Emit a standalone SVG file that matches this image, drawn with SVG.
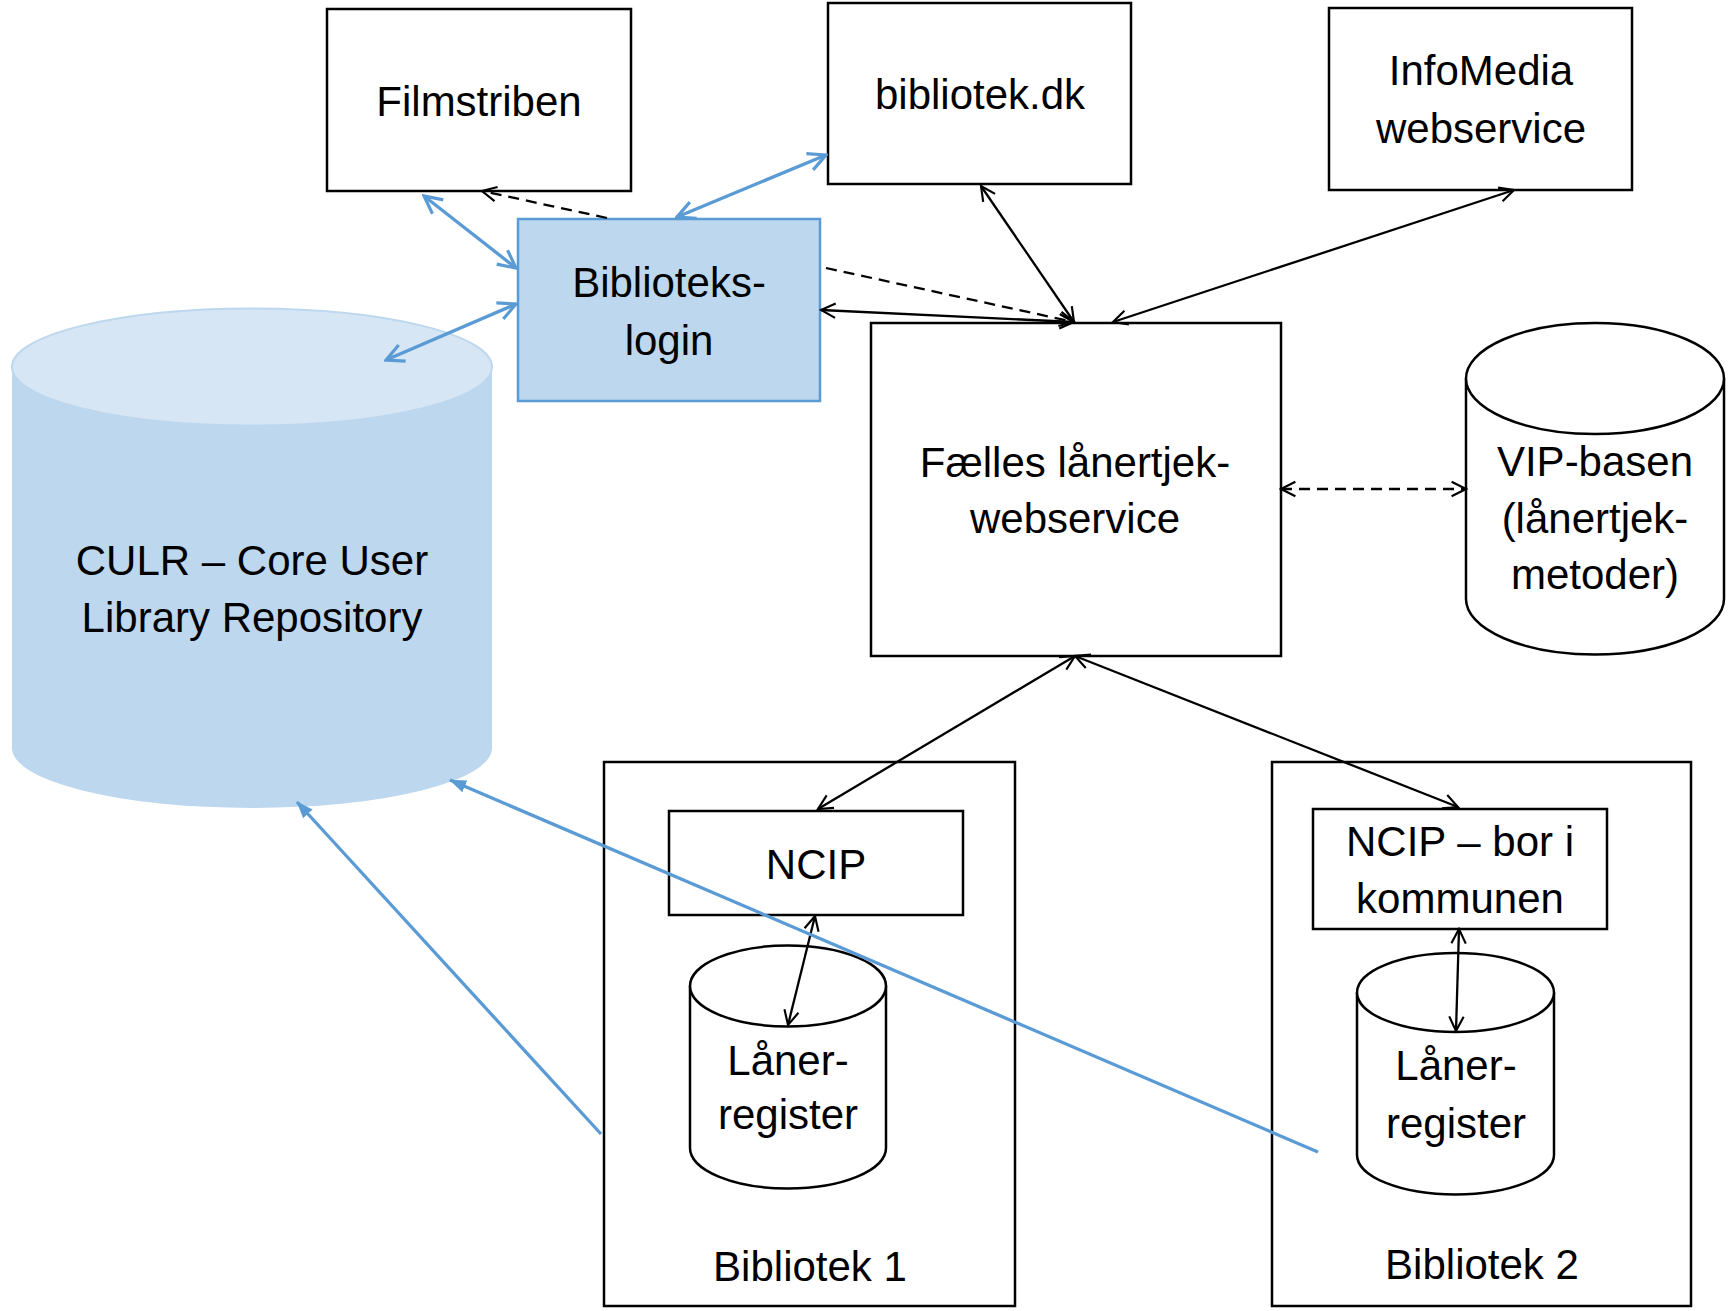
<svg xmlns="http://www.w3.org/2000/svg" width="1729" height="1311" viewBox="0 0 1729 1311">
<style>
text{font-family:"Liberation Sans",Arial,sans-serif;font-size:42px;fill:#000;text-anchor:middle}
.box{fill:#fff;stroke:#000;stroke-width:2.5}
.cyl{fill:#fff;stroke:#000;stroke-width:2.5}
.k{fill:none;stroke:#000;stroke-width:2.3}
.kd{fill:none;stroke:#000;stroke-width:2.3;stroke-dasharray:11,7}
.b{fill:none;stroke:#5B9BD5;stroke-width:3.3}
</style>
<defs>
<marker id="ah" viewBox="0 0 20 20" refX="18" refY="10" markerWidth="18" markerHeight="18" markerUnits="userSpaceOnUse" orient="auto-start-reverse"><path d="M2,2 L18,10 L2,18" fill="none" stroke="#000" stroke-width="2.4"/></marker>
<marker id="bh" viewBox="0 0 20 20" refX="18" refY="10" markerWidth="22" markerHeight="22" markerUnits="userSpaceOnUse" orient="auto-start-reverse"><path d="M2,2 L18,10 L2,18" fill="none" stroke="#5B9BD5" stroke-width="2.9"/></marker>
<marker id="bf" viewBox="0 0 20 20" refX="19" refY="10" markerWidth="17" markerHeight="17" markerUnits="userSpaceOnUse" orient="auto"><path d="M0,2.5 L20,10 L0,17.5 z" fill="#5B9BD5"/></marker>
</defs>

<g id="culr">
<path d="M12,367 L12,748 A240,60 0 0 0 492,748 L492,367 z" fill="#BDD7EE"/>
<ellipse cx="252" cy="367" rx="240" ry="58.5" fill="#D6E6F5" stroke="#BDD7EE" stroke-width="2"/>
<text x="252" y="575">CULR – Core User</text>
<text x="252" y="632">Library Repository</text>
</g>

<g id="filmstriben">
<rect class="box" x="327" y="9" width="304" height="182"/>
<text x="479" y="116">Filmstriben</text>
</g>

<g id="bibliotekdk">
<rect class="box" x="828" y="3" width="303" height="181"/>
<text x="980" y="109">bibliotek.dk</text>
</g>

<g id="infomedia">
<rect class="box" x="1329" y="8" width="303" height="182"/>
<text x="1481" y="85">InfoMedia</text>
<text x="1481" y="143">webservice</text>
</g>

<g id="bibliotekslogin">
<rect x="518" y="219" width="302" height="182" fill="#BDD7EE" stroke="#5B9BD5" stroke-width="2.5"/>
<text x="669" y="297">Biblioteks-</text>
<text x="669" y="355">login</text>
</g>

<g id="faelles">
<rect class="box" x="871" y="323" width="410" height="333"/>
<text x="1075" y="477">Fælles lånertjek-</text>
<text x="1075" y="533">webservice</text>
</g>

<g id="vip">
<path class="cyl" d="M1466,378.5 L1466,599 A129,55.5 0 0 0 1724,599 L1724,378.5"/>
<ellipse class="cyl" cx="1595" cy="378.5" rx="129" ry="55.5"/>
<text x="1595" y="476">VIP-basen</text>
<text x="1595" y="533">(lånertjek-</text>
<text x="1595" y="589">metoder)</text>
</g>

<g id="bibliotek1">
<rect class="box" x="604" y="762" width="411" height="544"/>
<text x="810" y="1281">Bibliotek 1</text>
</g>

<g id="ncip1">
<rect class="box" x="669" y="811" width="294" height="104"/>
<text x="816" y="879">NCIP</text>
</g>

<g id="laaner1">
<path class="cyl" d="M690,986 L690,1148 A98,40.5 0 0 0 886,1148 L886,986"/>
<ellipse class="cyl" cx="788" cy="986" rx="98" ry="40.5"/>
<text x="788" y="1075">Låner-</text>
<text x="788" y="1129">register</text>
</g>

<g id="bibliotek2">
<rect class="box" x="1272" y="762" width="419" height="544"/>
<text x="1482" y="1279">Bibliotek 2</text>
</g>

<g id="ncip2">
<rect class="box" x="1313" y="809" width="294" height="120"/>
<text x="1460" y="856">NCIP – bor i</text>
<text x="1460" y="913">kommunen</text>
</g>

<g id="laaner2">
<path class="cyl" d="M1357,992.5 L1357,1155 A98.5,39.5 0 0 0 1554,1155 L1554,992.5"/>
<ellipse class="cyl" cx="1455.5" cy="992.5" rx="98.5" ry="39.5"/>
<text x="1456" y="1080">Låner-</text>
<text x="1456" y="1138">register</text>
</g>

<g id="connectors">
<line class="k" x1="981" y1="186" x2="1074" y2="322" marker-start="url(#ah)" marker-end="url(#ah)"/>
<line class="k" x1="1514" y1="190" x2="1113" y2="322" marker-start="url(#ah)" marker-end="url(#ah)"/>
<line class="k" x1="821" y1="310" x2="1074" y2="322" marker-start="url(#ah)" marker-end="url(#ah)"/>
<line class="kd" x1="826" y1="268" x2="1074" y2="322" marker-end="url(#ah)"/>
<line class="kd" x1="607" y1="218" x2="482" y2="191" marker-end="url(#ah)"/>
<line class="kd" x1="1281" y1="489" x2="1466" y2="489" marker-start="url(#ah)" marker-end="url(#ah)"/>
<line class="k" x1="1075" y1="656" x2="818" y2="809" marker-start="url(#ah)" marker-end="url(#ah)"/>
<line class="k" x1="1075" y1="656" x2="1458" y2="807" marker-start="url(#ah)" marker-end="url(#ah)"/>
<line class="k" x1="815" y1="916" x2="788" y2="1025" marker-start="url(#ah)" marker-end="url(#ah)"/>
<line class="k" x1="1459" y1="929" x2="1456" y2="1031" marker-start="url(#ah)" marker-end="url(#ah)"/>
<line class="b" x1="424" y1="196" x2="516" y2="268" marker-start="url(#bh)" marker-end="url(#bh)"/>
<line class="b" x1="677" y1="217" x2="826" y2="155" marker-start="url(#bh)" marker-end="url(#bh)"/>
<line class="b" x1="516" y1="304" x2="386" y2="360" marker-start="url(#bh)" marker-end="url(#bh)"/>
<line class="b" x1="601" y1="1134" x2="297" y2="802" marker-end="url(#bf)"/>
<line class="b" x1="1318" y1="1152" x2="450" y2="780" marker-end="url(#bf)"/>
</g>
</svg>
